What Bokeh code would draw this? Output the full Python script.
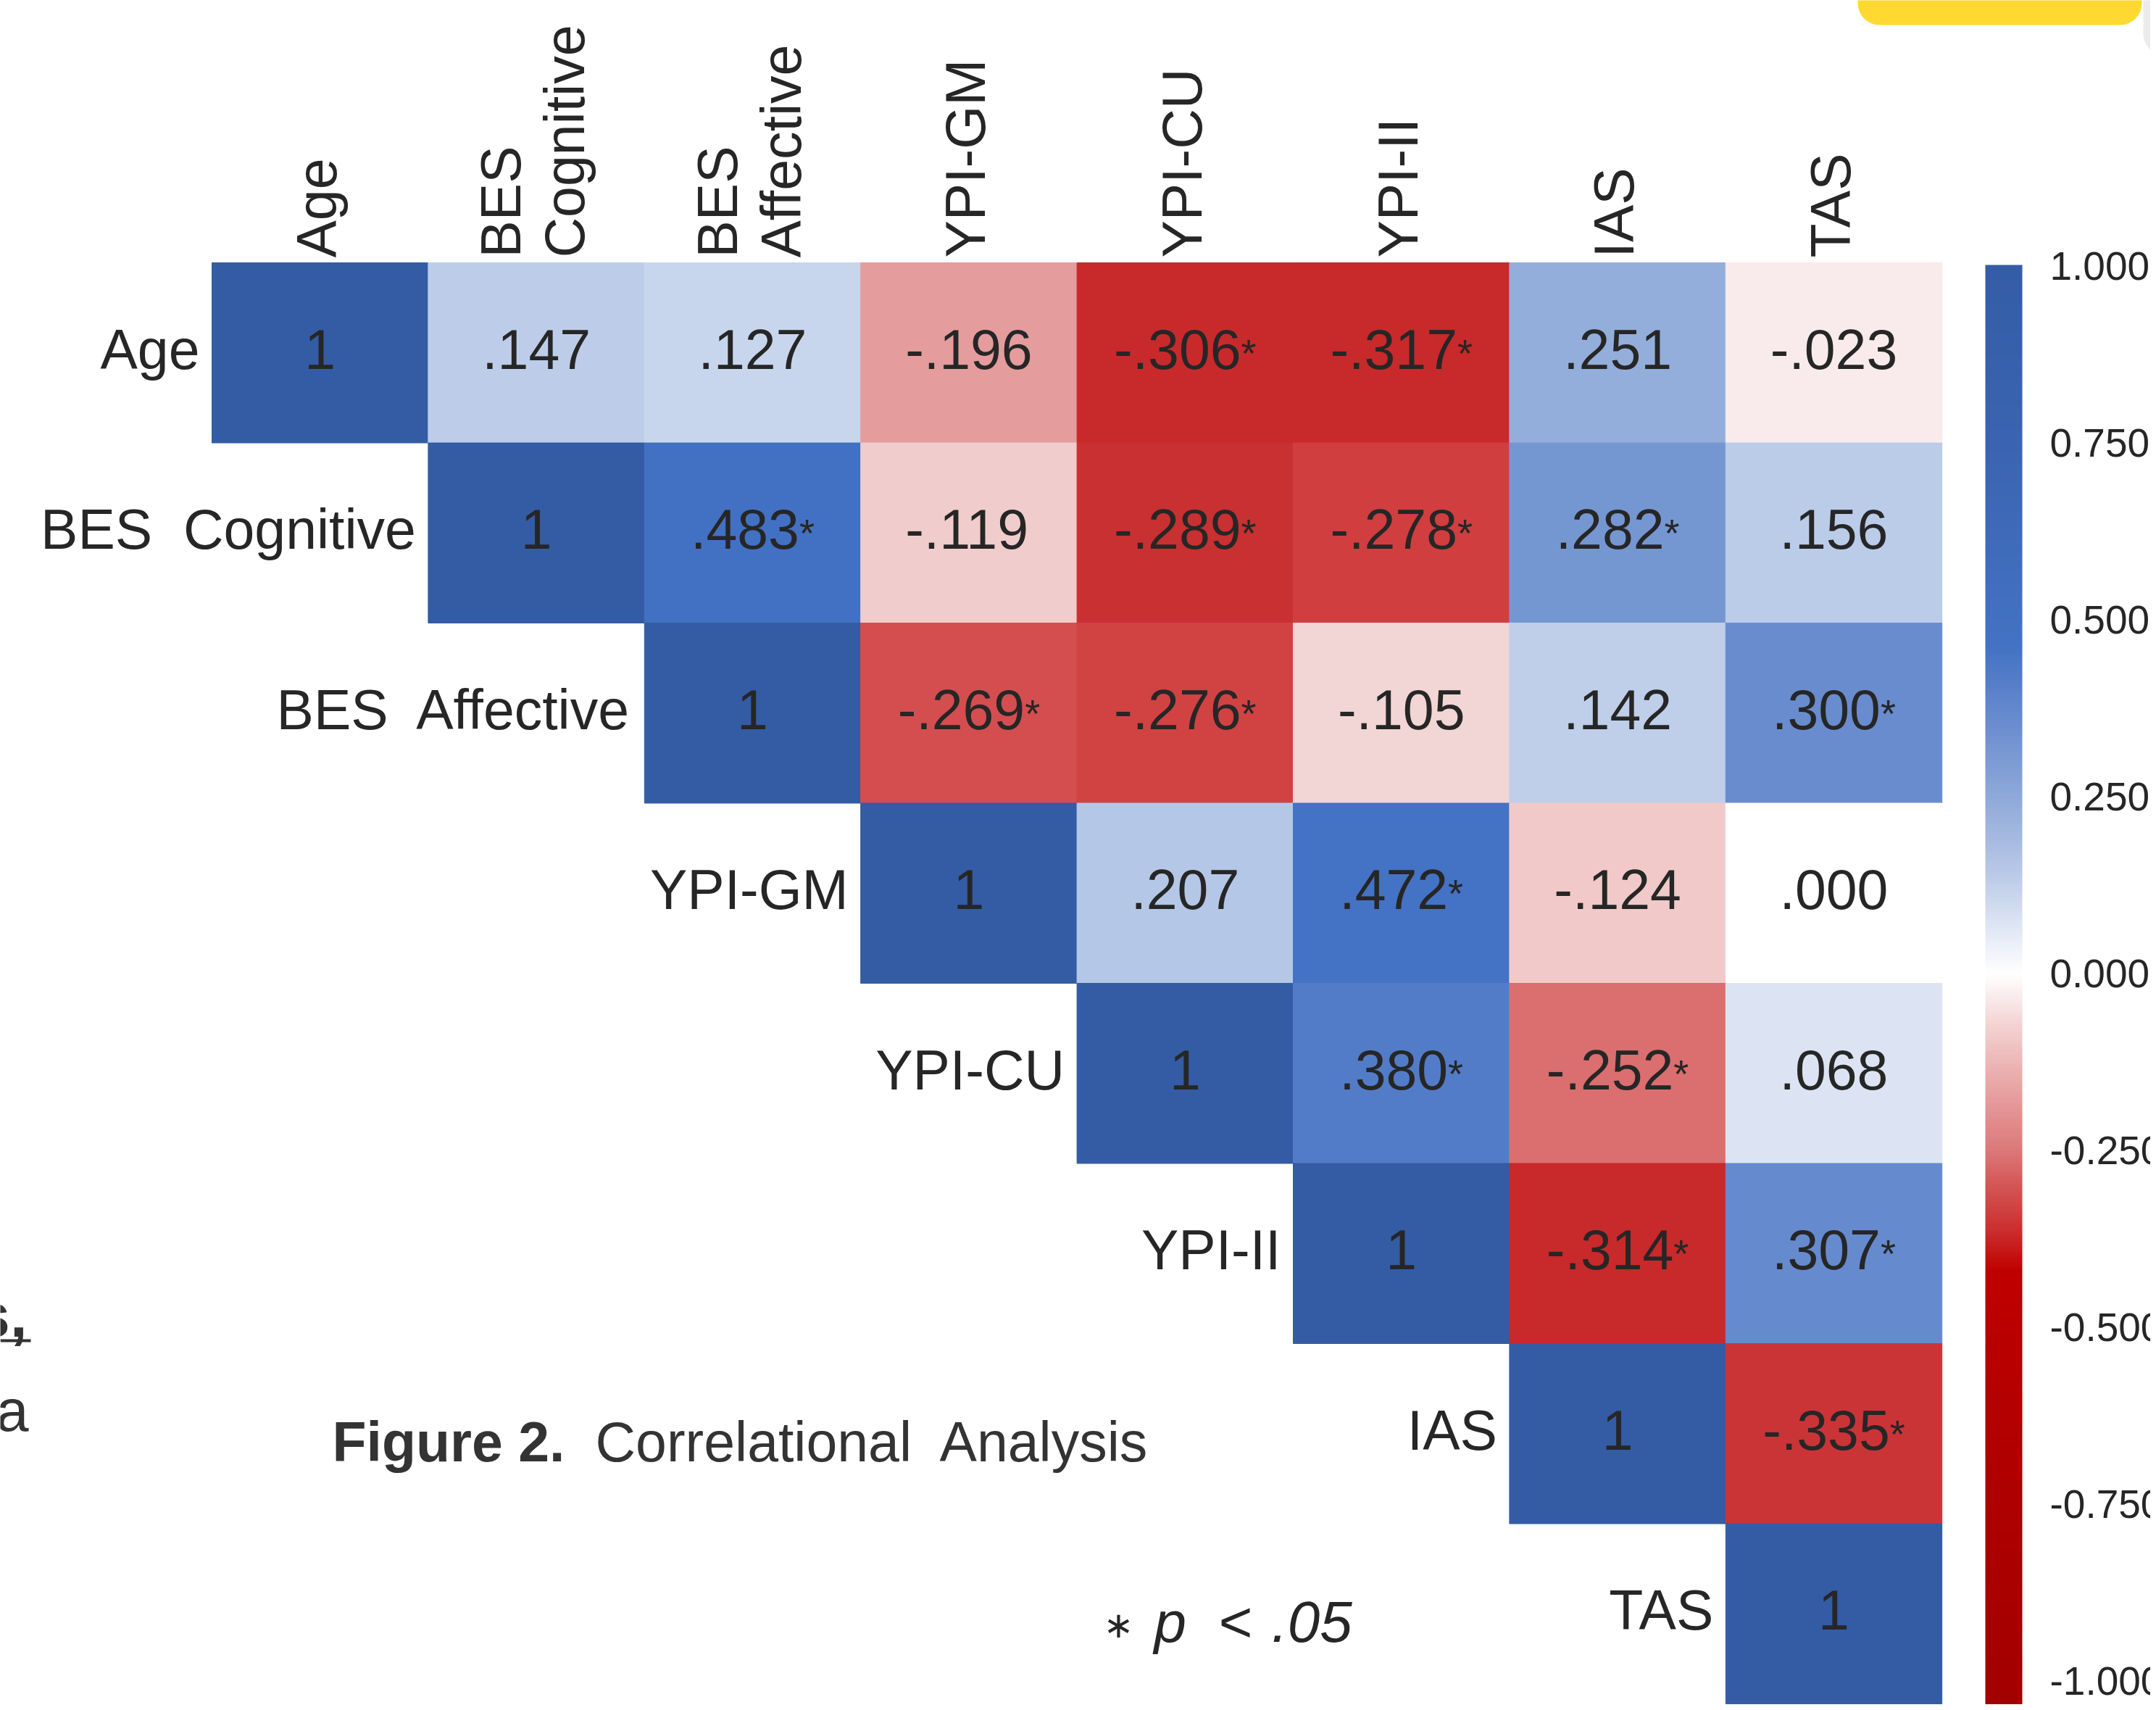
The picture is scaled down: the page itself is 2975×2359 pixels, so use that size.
import numpy as np
from bokeh.plotting import figure
from bokeh.models import (ColumnDataSource, LinearColorMapper, ColorBar, FixedTicker,
                          PrintfTickFormatter, Range1d, BoxAnnotation)
from bokeh.core.properties import value
from bokeh.embed import file_html
from bokeh.resources import INLINE

NB = "\u00a0"

# ---------------- data ----------------
row_labels = ["Age", "BES" + NB + " Cognitive", "BES" + NB + " Affective", "YPI-GM", "YPI-CU",
              "YPI-II", "IAS", "TAS"]
col_labels = ["Age", "BES\nCognitive", "BES\nAffective", "YPI-GM", "YPI-CU", "YPI-II", "IAS", "TAS"]

# upper triangle (diagonal included), one list per row
r_age     = [1, 0.147, 0.127, -0.196, -0.306, -0.317, 0.251, -0.023]
r_bes_cog = [1, 0.483, -0.119, -0.289, -0.278, 0.282, 0.156]
r_bes_aff = [1, -0.269, -0.276, -0.105, 0.142, 0.300]
r_ypi_gm  = [1, 0.207, 0.472, -0.124, 0.000]
r_ypi_cu  = [1, 0.380, -0.252, 0.068]
r_ypi_ii  = [1, -0.314, 0.307]
r_ias     = [1, -0.335]
r_tas     = [1]

# significance flags (p < .05)
s_age     = [0, 0, 0, 0, 1, 1, 0, 0]
s_bes_cog = [0, 1, 0, 1, 1, 1, 0]
s_bes_aff = [0, 1, 1, 0, 0, 1]
s_ypi_gm  = [0, 0, 1, 0, 0]
s_ypi_cu  = [0, 1, 1, 0]
s_ypi_ii  = [0, 1, 1]
s_ias     = [0, 1]
s_tas     = [0]

cbar_ticks = [-1.0, -0.75, -0.5, -0.25, 0.0, 0.25, 0.5, 0.75, 1.0]

caption_bold = "Figure 2."
caption_text = "Correlational" + NB + " Analysis"
foot_parts = ["\u2217", "p", "<", ".05"]

rows = [r_age, r_bes_cog, r_bes_aff, r_ypi_gm, r_ypi_cu, r_ypi_ii, r_ias, r_tas]
sigs = [s_age, s_bes_cog, s_bes_aff, s_ypi_gm, s_ypi_cu, s_ypi_ii, s_ias, s_tas]

# ---------------- layout ----------------
FIG_W, FIG_H = 2967, 2351
GX0, GY0 = 292.0, 362.0      # px of grid top-left
CW, CH = 298.4, 248.5        # cell size in px
FONT = "Liberation Sans"
TXT = "#262626"
NUM_PX = 77
AST_PX = 54
SH = 0.36                    # renderer places text ~0.36em lower than the anchor


def X(px):
    return (px - GX0) / CW


def Y(py):
    return (py - GY0) / CH


def ramp(stops, n, lo, hi):
    vs = np.array([s[0] for s in stops], dtype=float)
    cols = np.array([[int(h[i:i + 2], 16) for i in (1, 3, 5)] for _, h in stops], dtype=float)
    centers = lo + (np.arange(n) + 0.5) * (hi - lo) / n
    rgb = np.stack([np.interp(centers, vs, cols[:, k]) for k in range(3)], axis=1)
    return ["#%02x%02x%02x" % tuple(int(round(c)) for c in px) for px in rgb]


cell_stops = [(-1.0, "#C8292A"), (-0.335, "#CB3436"), (-0.32, "#C8292A"), (-0.30, "#C82A2B"),
              (-0.289, "#C92F30"), (-0.277, "#D03F40"), (-0.269, "#D44D4E"), (-0.252, "#DB6E6F"),
              (-0.196, "#E59C9C"), (-0.124, "#F1C9C9"), (-0.105, "#F2D5D5"), (-0.023, "#F9EBEB"),
              (0.0, "#FFFFFF"), (0.068, "#DCE4F3"), (0.127, "#C8D6ED"), (0.145, "#BDCDE9"),
              (0.207, "#B4C7E7"), (0.251, "#93AEDB"), (0.282, "#7497D2"), (0.303, "#678BCE"),
              (0.380, "#527CC7"), (0.472, "#4472C4"), (0.483, "#4271C3"), (1.0, "#335CA4")]
bar_stops = [(-1.04, "#A20000"), (-1.0, "#A40000"), (-0.75, "#AE0000"), (-0.5, "#BA0000"),
             (-0.42, "#C00000"), (-0.36, "#CC3030"), (-0.30, "#D45555"), (-0.25, "#DC7878"),
             (-0.15, "#EAA9A9"), (-0.07, "#F4D4D4"), (0.0, "#FFFFFF"), (0.08, "#D8E1F2"),
             (0.15, "#B6C6E6"), (0.25, "#8EA9D9"), (0.35, "#6C8ECF"), (0.46, "#4472C4"),
             (0.6, "#3F6BBB"), (0.75, "#3A64B1"), (1.0, "#345DA6"), (1.01, "#345DA6")]

cell_mapper = LinearColorMapper(palette=ramp(cell_stops, 2000, -1.0, 1.0), low=-1.0, high=1.0)
BAR_LO, BAR_HI = -1.04, 1.002
bar_mapper = LinearColorMapper(palette=ramp(bar_stops, 512, BAR_LO, BAR_HI), low=BAR_LO, high=BAR_HI)

ADV = {".": 0.278, "-": 0.333}
for d in "0123456789":
    ADV[d] = 0.556


def fmt(v):
    if abs(v - 1) < 1e-9:
        return "1"
    return f"{v:.3f}".replace("0.", ".", 1)


# ---------------- sources ----------------
cx, cy, cr = [], [], []
nx, ny, nt = [], [], []
ax_, ay_ = [], []
for r, (row, sg) in enumerate(zip(rows, sigs)):
    for k, (v, s) in enumerate(zip(row, sg)):
        c = r + k
        cx.append(c + 0.5)
        cy.append(r + 0.5)
        cr.append(v)
        t = fmt(v)
        num_w = sum(ADV[ch] for ch in t) * NUM_PX
        ast_w = 0.389 * AST_PX if s else 0.0
        left = c + 0.5 - (num_w + ast_w) / 2 / CW
        base = r + 0.5 + 22.5 / CH            # wanted baseline
        nx.append(left)
        ny.append(base - SH * NUM_PX / CH)
        nt.append(t)
        if s:
            ax_.append(left + num_w / CW)
            ay_.append(base - (3 + SH * AST_PX) / CH)

cells = ColumnDataSource(dict(x=cx, y=cy, r=cr))
nums = ColumnDataSource(dict(x=nx, y=ny, t=nt))
asts = ColumnDataSource(dict(x=ax_, y=ay_, t=["*"] * len(ax_)))

rl = ColumnDataSource(dict(x=[r - 17 / CW for r in range(len(row_labels))],
                           y=[r + 0.5 + (22.5 - SH * NUM_PX) / CH for r in range(len(row_labels))],
                           t=row_labels))
clx, cly, clt = [], [], []
for c, lab in enumerate(col_labels):
    lines = lab.split("\n")
    n = len(lines)
    for i, ln in enumerate(lines):
        clx.append(c + 0.5 + (23 - SH * NUM_PX + (i - (n - 1) / 2) * 88) / CW)
        cly.append(Y(355))
        clt.append(ln)
cl = ColumnDataSource(dict(x=clx, y=cly, t=clt))

# ---------------- figure ----------------
p = figure(width=FIG_W, height=FIG_H, output_backend="svg", toolbar_location=None,
           x_range=Range1d(X(0), X(FIG_W)),
           y_range=Range1d(Y(FIG_H), Y(0)),
           x_axis_type=None, y_axis_type=None, min_border=0,
           outline_line_color=None, background_fill_color="white",
           border_fill_color="white")

p.rect(x="x", y="y", width=1, height=1, source=cells,
       fill_color={"field": "r", "transform": cell_mapper},
       line_color={"field": "r", "transform": cell_mapper}, line_width=1)

p.text(x="x", y="y", text="t", source=nums, text_font=value(FONT), text_font_size=f"{NUM_PX}px",
       text_color=TXT, text_align="left", text_baseline="alphabetic")
p.text(x="x", y="y", text="t", source=asts, text_font=value(FONT), text_font_size=f"{AST_PX}px",
       text_color=TXT, text_align="left", text_baseline="alphabetic")
p.text(x="x", y="y", text="t", source=rl, text_font=value(FONT), text_font_size=f"{NUM_PX}px",
       text_color=TXT, text_align="right", text_baseline="alphabetic")
p.text(x="x", y="y", text="t", source=cl, text_font=value(FONT), text_font_size=f"{NUM_PX}px",
       text_color=TXT, text_align="left", text_baseline="alphabetic", angle=np.pi / 2)

# caption
cap_y = Y(2016 - SH * 77)
p.text(x=[X(458)], y=[cap_y], text=[caption_bold], text_font=value(FONT), text_font_size="77px",
       text_font_style="bold", text_color="#333333", text_align="left", text_baseline="alphabetic")
p.text(x=[X(821)], y=[cap_y], text=[caption_text], text_font=value(FONT), text_font_size="77px",
       text_color="#333333", text_align="left", text_baseline="alphabetic")

# footnote  "* p < .05"
p.text(x=[X(1522)], y=[Y(2241)], text=[foot_parts[0]], text_font=value("DejaVu Sans"),
       text_font_size="50px", text_color=TXT, text_align="left", text_baseline="alphabetic")
foot_y = Y(2266 - SH * 80)
p.text(x=[X(1592), X(1680), X(1754)], y=[foot_y] * 3, text=foot_parts[1:],
       text_font=value(FONT), text_font_size="80px", text_font_style="italic",
       text_color=TXT, text_align="left", text_baseline="alphabetic")

# fragments of surrounding page text at the left edge
p.text(x=[X(37)], y=[Y(1845 - SH * 85)], text=["s,"], text_font=value(FONT), text_font_size="85px",
       text_font_style="bold", text_color="#333333", text_align="right", text_baseline="alphabetic")
p.segment(x0=[X(0)], y0=[Y(1849)], x1=[X(42)], y1=[Y(1849)], line_color="#333333", line_width=4)
p.text(x=[X(39)], y=[Y(1975 - SH * 81)], text=["a"], text_font=value(FONT), text_font_size="81px",
       text_color="#333333", text_align="right", text_baseline="alphabetic")

# page decorations at the top right
p.add_layout(BoxAnnotation(left=X(2563), right=X(2955), top=Y(-40), bottom=Y(34),
                           fill_color="#FFD932", fill_alpha=1, line_color=None, border_radius=30,
                           level="overlay"))
p.add_layout(BoxAnnotation(left=X(2957), right=X(3060), top=Y(-40), bottom=Y(76),
                           fill_color="#EBEBEB", fill_alpha=1, line_color=None, border_radius=30,
                           level="overlay"))

# colour bar
bar_top = 365
px_per_unit = 976
bar_h = int(round((BAR_HI - BAR_LO) * px_per_unit))
bar_bottom = bar_top + bar_h
cb = ColorBar(color_mapper=bar_mapper, ticker=FixedTicker(ticks=cbar_ticks),
              formatter=PrintfTickFormatter(format="%.3f"),
              location=(2739, FIG_H - bar_bottom), width=51, height=bar_h,
              padding=0, label_standoff=38,
              major_label_text_font=FONT, major_label_text_font_size="55px",
              major_label_text_color=TXT, major_tick_line_color=None,
              minor_tick_line_color=None, bar_line_color=None, border_line_color=None,
              background_fill_alpha=0)
p.add_layout(cb)

open("out.html", "w").write(file_html(p, INLINE))
